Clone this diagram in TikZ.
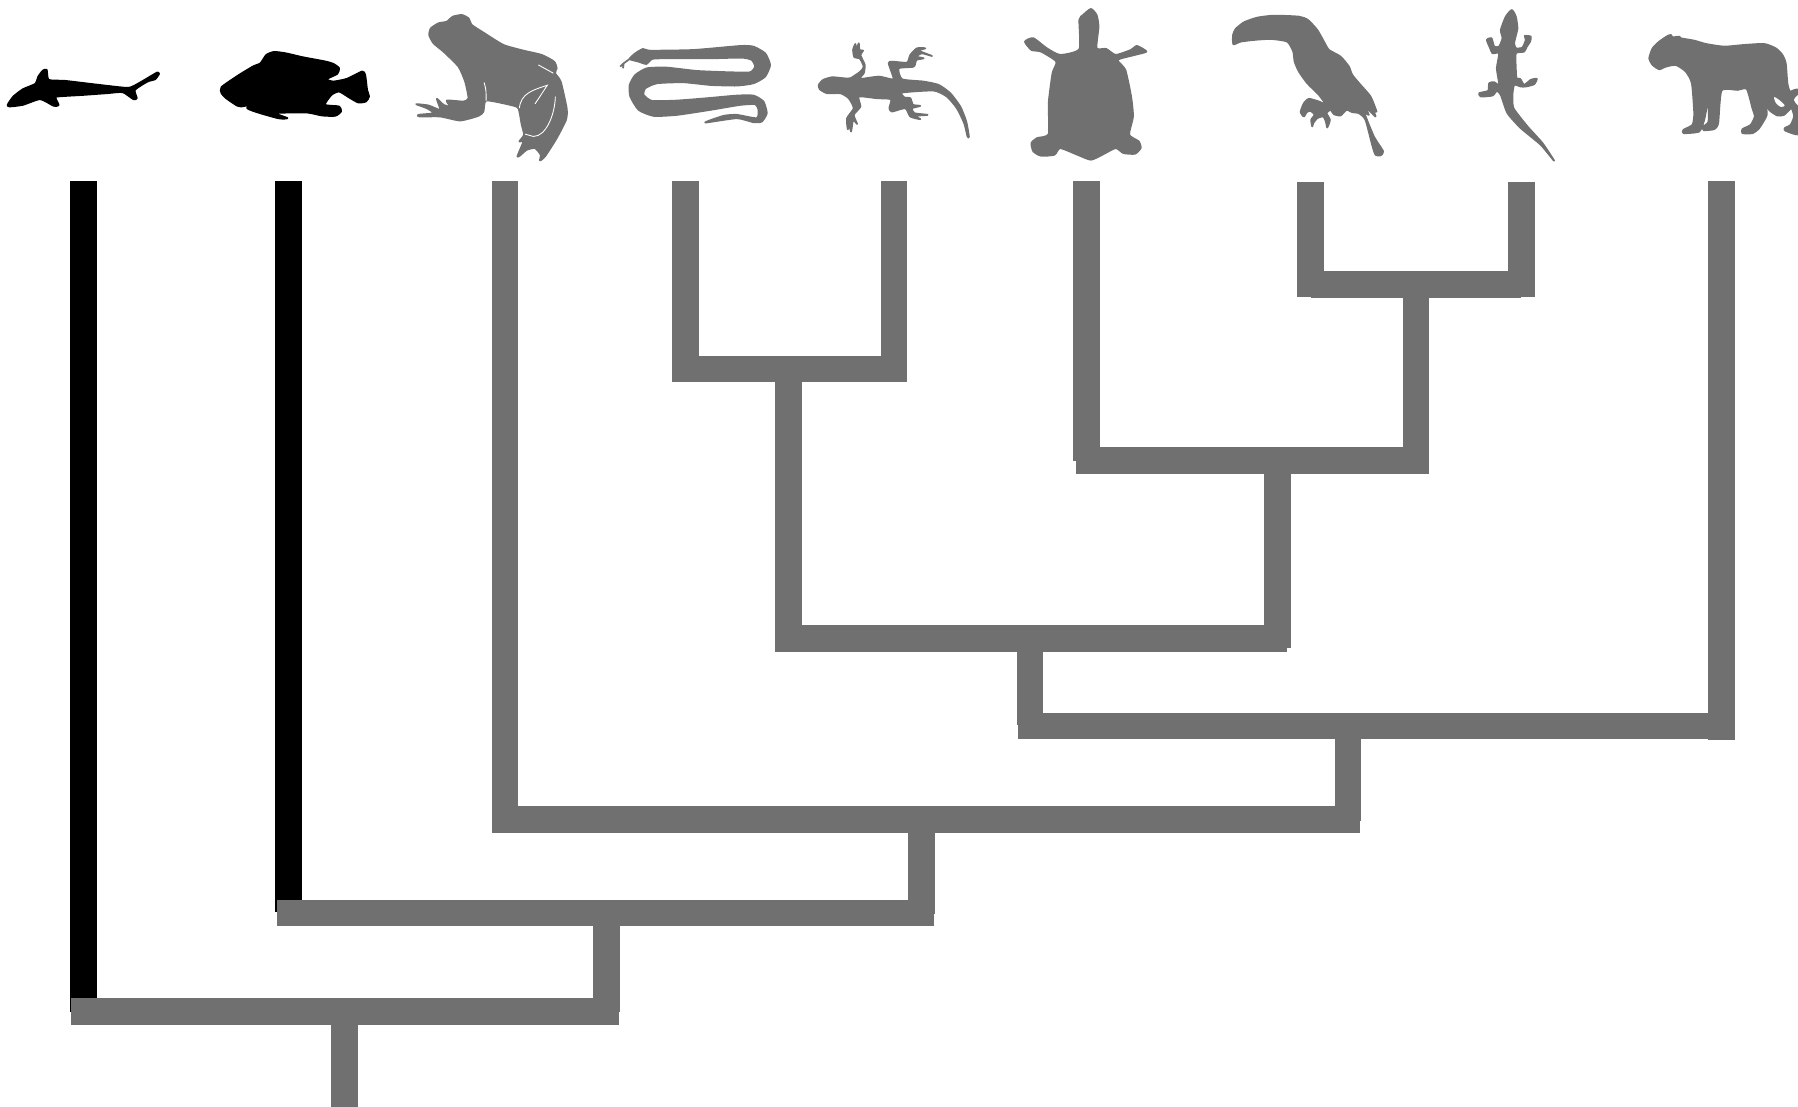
\documentclass[tikz,border=0pt]{standalone}
\definecolor{tgrey}{HTML}{707070}
\tikzset{
  branch/.style={draw=tgrey,line width=0.265cm,line cap=butt},
  blackbranch/.style={draw=black,line width=0.265cm,line cap=butt},
  silgrey/.style={fill=tgrey,draw=tgrey,line width=0.5pt,line join=round},
  silblack/.style={fill=black,draw=black,line width=0.5pt,line join=round},
  gap/.style={fill=white},
  veinline/.style={draw=white,line width=0.25pt},
  thingrey/.style={draw=tgrey,line width=0.5pt},
  zoomA/.style={x=0.003827cm,y=-0.003333cm},
  zoomB/.style={x=0.003333cm,y=-0.003333cm},
}
\newcommand{\sil}[2]{\path[#1] plot[smooth cycle,tension=0.35] coordinates {#2};}
\begin{document}
\begin{tikzpicture}[x=0.01cm,y=-0.01cm]
\useasboundingbox (0,0) rectangle (1798,1107);
\clip (0,0) rectangle (1798,1107);
% tips and junctions
\coordinate (shark) at (83.7,181.5);   \coordinate (sharkE) at (83.7,1011.5);
\coordinate (fish) at (288.7,181.5);   \coordinate (fishE) at (288.7,912);
\coordinate (frog) at (505,181.5);     \coordinate (frogE) at (505,820);
\coordinate (snake) at (685.5,181);  \coordinate (snakeE) at (685.5,370);
\coordinate (liz) at (893.8,181);    \coordinate (lizE) at (893.8,370);
\coordinate (turt) at (1086.7,181);  \coordinate (turtE) at (1086.7,460.7);
\coordinate (bird) at (1310.7,182);  \coordinate (birdE) at (1310.7,296.7);
\coordinate (geck) at (1521.3,182);  \coordinate (geckE) at (1521.3,296.7);
\coordinate (jag) at (1721.7,181.5);     \coordinate (jagE) at (1721.7,739.5);
\coordinate (a1) at (672,369.2);   \coordinate (a2) at (907,369.2);
\coordinate (b1) at (1310.7,284.7);\coordinate (b2) at (1521.3,284.7);
\coordinate (c1) at (1076,460.7);  \coordinate (c2) at (1429.3,460.7);
\coordinate (d1) at (775,638.5);     \coordinate (d2) at (1287,638.5);
\coordinate (e1) at (1018,726);    \coordinate (e2) at (1735,726);
\coordinate (f1) at (492,819.6);   \coordinate (f2) at (1360,819.6);
\coordinate (g1) at (277,913);   \coordinate (g2) at (934,913);
\coordinate (h1) at (71,1011.5);   \coordinate (h2) at (619,1011.5);
\coordinate (s1a) at (788.4,382);  \coordinate (s1b) at (788.4,640);
\coordinate (s2a) at (1416,298);   \coordinate (s2b) at (1416,460);
\coordinate (s3a) at (1277.4,474); \coordinate (s3b) at (1277.4,648);
\coordinate (s4a) at (1030,651);   \coordinate (s4b) at (1030,725);
\coordinate (s5a) at (1348,739);   \coordinate (s5b) at (1348,821);
\coordinate (s6a) at (921.4,832);    \coordinate (s6b) at (921.4,914);
\coordinate (s7a) at (606.5,926);  \coordinate (s7b) at (606.5,1011.7);
\coordinate (root) at (344.5,1025);\coordinate (rootE) at (344.5,1107);
% branches
\draw[blackbranch] (shark) -- (sharkE);
\draw[blackbranch] (fish) -- (fishE);
\foreach \p/\q in {frog/frogE,snake/snakeE,liz/lizE,turt/turtE,bird/birdE,geck/geckE,jag/jagE,
  a1/a2,b1/b2,c1/c2,d1/d2,e1/e2,f1/f2,g1/g2,h1/h2,
  s1a/s1b,s2a/s2b,s3a/s3b,s4a/s4b,s5a/s5b,s6a/s6b,s7a/s7b,root/rootE}
  \draw[branch] (\p) -- (\q);
% shark and fish
\begin{scope}[zoomA]
\sil{silblack}{(20,315)(35,290)(60,268)(92,252)(100,230)(112,212)(122,210)(127,240)(170,243)(250,254)(330,264)(350,258)(385,235)(410,218)(415,222)(405,238)(385,245)(352,270)(357,295)(348,298)(320,277)(280,280)(220,285)(150,290)(145,295)(153,316)(140,318)(105,298)(60,315)(25,320)}
\sil{silblack}{(578,262)(620,228)(660,200)(680,190)(695,165)(715,156)(745,160)(790,172)(850,185)(870,192)(885,205)(880,222)(852,238)(870,245)(905,237)(945,215)(953,225)(958,270)(963,290)(955,305)(935,308)(910,292)(885,275)(865,285)(848,315)(885,320)(890,335)(875,348)(840,347)(800,338)(720,340)(750,355)(725,355)(645,325)(682,285)(640,318)(620,318)(590,295)(578,280)}
\end{scope}
% frog
\begin{scope}[zoomB,xshift=4.1cm,yshift=-0.1cm]
\sil{silgrey}{(57,75)(62,55)(85,40)(110,35)(128,20)(155,15)(175,25)(185,45)(220,68)(280,105)(340,122)(395,135)(432,155)(440,175)(435,190)(452,215)(470,295)(468,330)(440,385)(405,440)(390,452)(392,435)(375,415)(350,420)(330,437)(322,440)(340,395)(328,395)(342,375)(335,345)(325,295)(300,285)(228,272)(220,305)(205,318)(150,332)(90,320)(28,320)(25,315)(70,310)(50,295)(18,283)(55,287)(90,300)(80,267)(100,285)(120,290)(110,272)(160,275)(175,265)(165,215)(145,170)(100,125)(70,100)}
\draw[veinline] (222,218) .. controls (228,240) .. (228,272);
\draw[veinline] (385,165) -- (430,190);
\draw[veinline] (328,295) .. controls (332,250) and (370,240) .. (412,226) -- (375,282);
\draw[veinline] (436,260) .. controls (435,310) and (410,380) .. (370,380) -- (345,373);
\end{scope}
% snake
\begin{scope}[zoomB,xshift=6.1cm,yshift=-0.35cm]
\sil{silgrey}{(58,72)(75,55)(98,42)(120,47)(250,45)(390,33)(430,35)(465,55)(480,90)(465,125)(430,145)(380,152)(300,150)(220,142)(140,145)(105,160)(100,180)(125,198)(200,197)(290,190)(380,182)(430,182)(460,200)(470,235)(455,260)(430,262)(380,250)(285,263)(340,243)(380,240)(440,250)(445,225)(435,208)(390,210)(300,225)(200,240)(130,243)(85,225)(60,185)(58,150)(75,120)(110,100)(170,98)(260,108)(360,112)(420,112)(435,95)(425,75)(395,68)(300,70)(160,70)(125,72)(108,87)(85,80)}
\draw[thingrey] (58,72) -- (40,85) -- (30,95) (40,85) -- (38,100);
\end{scope}
% lizard
\begin{scope}[zoomB,xshift=8.1cm,yshift=-0.3cm]
\sil{silgrey}{(25,165)(38,150)(65,142)(100,145)(120,145)(150,125)(160,110)(148,85)(132,82)(128,60)(135,42)(138,62)(145,40)(147,60)(158,62)(150,75)(163,105)(160,130)(148,147)(205,140)(242,148)(250,145)(235,100)(245,95)(290,98)(300,75)(320,55)(345,55)(325,62)(365,78)(335,70)(318,80)(340,85)(318,90)(310,110)(265,115)(275,148)(340,155)(385,165)(420,190)(450,230)(468,275)(476,320)(472,320)(462,280)(440,235)(410,200)(370,182)(275,188)(283,203)(300,205)(308,225)(330,228)(305,235)(312,250)(352,255)(315,258)(330,268)(300,260)(285,235)(245,245)(237,235)(242,208)(200,205)(145,200)(150,230)(130,255)(140,282)(128,270)(122,305)(117,285)(112,298)(110,265)(130,235)(115,205)(90,190)(50,190)(28,178)}
\end{scope}
% turtle
\begin{scope}[zoomA,xshift=6cm]
\sil{silgrey}{(1250,60)(1260,45)(1280,27)(1295,45)(1300,80)(1295,145)(1320,147)(1345,165)(1385,150)(1400,138)(1425,155)(1395,165)(1350,180)(1370,210)(1385,290)(1390,350)(1380,405)(1405,425)(1410,445)(1395,462)(1365,460)(1345,445)(1310,465)(1280,480)(1245,465)(1200,445)(1185,465)(1150,468)(1130,455)(1125,430)(1140,415)(1170,403)(1170,310)(1180,220)(1190,185)(1150,155)(1125,150)(1108,125)(1130,115)(1165,145)(1200,165)(1250,148)}
\end{scope}
% toucan
\begin{scope}[zoomB,xshift=12.2cm,yshift=-0.05cm]
\sil{silgrey}{(37,90)(45,72)(70,52)(110,38)(160,32)(235,35)(262,45)(290,75)(310,110)(325,135)(360,155)(385,185)(395,210)(420,240)(450,275)(468,320)(460,320)(465,335)(440,310)(425,290)(445,330)(432,325)(460,395)(488,440)(480,452)(465,450)(455,420)(435,345)(415,325)(395,322)(378,315)(360,332)(340,328)(330,315)(318,325)(328,345)(320,368)(316,350)(308,335)(290,340)(278,355)(275,365)(272,345)(282,330)(270,318)(258,322)(250,335)(240,322)(250,295)(265,282)(295,290)(315,298)(295,270)(260,235)(235,200)(222,170)(218,140)(200,110)(150,102)(100,105)(60,110)(38,118)}
\end{scope}
% gecko
\begin{scope}[zoomB,xshift=14.7cm,yshift=-0.05cm]
\sil{silgrey}{(123,15)(135,35)(140,70)(133,100)(130,115)(135,130)(155,128)(165,105)(162,93)(180,95)(178,110)(168,125)(160,140)(135,145)(135,190)(137,220)(148,222)(160,240)(180,225)(198,222)(190,238)(165,245)(150,245)(130,240)(125,270)(128,310)(170,365)(215,415)(250,468)(210,420)(150,370)(110,325)(90,270)(78,258)(65,272)(30,275)(25,265)(52,258)(55,235)(70,232)(85,240)(78,190)(85,145)(65,145)(58,130)(48,105)(62,100)(70,125)(85,125)(95,100)(90,75)(105,35)}
\end{scope}
% jaguar
\begin{scope}[zoomB,xshift=16.3cm,yshift=-0.2cm]
\sil{silgrey}{(55,115)(65,85)(85,65)(110,48)(120,45)(125,52)(145,50)(150,55)(190,62)(225,72)(280,80)(340,75)(400,72)(435,85)(455,105)(465,130)(470,190)(478,215)(504,213)(510,340)(465,333)(462,325)(480,315)(490,290)(482,265)(460,285)(440,287)(415,270)(403,240)(408,285)(385,325)(365,340)(335,340)(335,328)(360,315)(372,290)(365,265)(348,207)(320,210)(272,212)(262,310)(250,328)(218,331)(218,320)(233,305)(232,243)(220,300)(205,335)(158,340)(158,330)(185,315)(190,280)(183,190)(165,155)(135,135)(105,140)(85,148)(65,135)}
\fill[gap] plot[smooth cycle,tension=0.5] coordinates {(430,232)(436,250)(450,261)(462,257)(445,240)};
\fill[gap] plot[smooth cycle,tension=0.5] coordinates {(490,240)(510,222)(510,262)};
\end{scope}
\end{tikzpicture}
\end{document}
